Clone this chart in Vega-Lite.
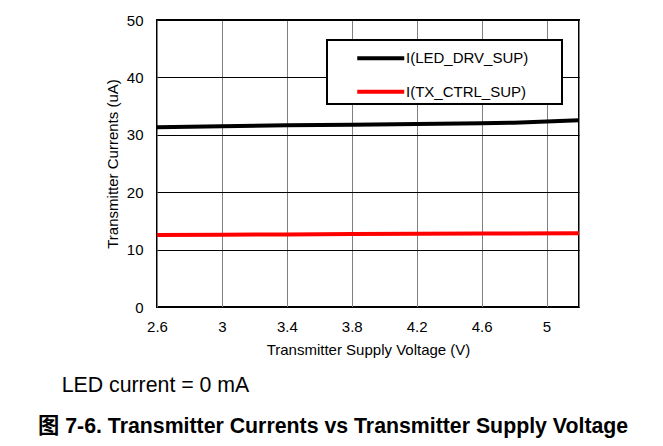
{
  "$schema": "https://vega.github.io/schema/vega-lite/v6.json",
  "autosize": "none",
  "width": 422,
  "height": 287,
  "padding": {"left": 157, "top": 20, "right": 84, "bottom": 139},
  "background": "white",
  "title": {
    "text": "\u200b\u00a0\u00a0\u00a0\u00a0LED current = 0 mA",
    "subtitle": "图 7-6. Transmitter Currents vs Transmitter Supply Voltage",
    "orient": "bottom",
    "anchor": "start",
    "frame": "group",
    "dx": -119,
    "offset": 18,
    "font": "Liberation Sans, Noto Sans CJK SC",
    "fontSize": 21.3,
    "fontWeight": "normal",
    "color": "#000000",
    "subtitleFont": "Liberation Sans, Noto Sans CJK SC",
    "subtitleFontSize": 21.3,
    "subtitleFontWeight": "bold",
    "subtitleColor": "#000000",
    "subtitlePadding": 20
  },
  "data": {
    "values": [
      {"v": 2.6, "i": 31.3, "s": "I(LED_DRV_SUP)"},
      {"v": 3.0, "i": 31.5, "s": "I(LED_DRV_SUP)"},
      {"v": 3.4, "i": 31.65, "s": "I(LED_DRV_SUP)"},
      {"v": 3.8, "i": 31.75, "s": "I(LED_DRV_SUP)"},
      {"v": 4.2, "i": 31.9, "s": "I(LED_DRV_SUP)"},
      {"v": 4.6, "i": 32.0, "s": "I(LED_DRV_SUP)"},
      {"v": 4.8, "i": 32.1, "s": "I(LED_DRV_SUP)"},
      {"v": 5.0, "i": 32.3, "s": "I(LED_DRV_SUP)"},
      {"v": 5.2, "i": 32.55, "s": "I(LED_DRV_SUP)"},
      {"v": 2.6, "i": 12.55, "s": "I(TX_CTRL_SUP)"},
      {"v": 3.0, "i": 12.6, "s": "I(TX_CTRL_SUP)"},
      {"v": 3.4, "i": 12.65, "s": "I(TX_CTRL_SUP)"},
      {"v": 3.8, "i": 12.7, "s": "I(TX_CTRL_SUP)"},
      {"v": 4.2, "i": 12.75, "s": "I(TX_CTRL_SUP)"},
      {"v": 4.6, "i": 12.8, "s": "I(TX_CTRL_SUP)"},
      {"v": 5.2, "i": 12.85, "s": "I(TX_CTRL_SUP)"}
    ]
  },
  "mark": {"type": "line", "strokeWidth": 4, "clip": false},
  "encoding": {
    "x": {
      "field": "v",
      "type": "quantitative",
      "scale": {"domain": [2.6, 5.2], "nice": false, "zero": false},
      "axis": {
        "title": "Transmitter Supply Voltage (V)",
        "values": [2.6, 3.0, 3.4, 3.8, 4.2, 4.6, 5.0, 5.2],
        "labelExpr": "datum.value > 5.1 ? '' : format(datum.value, '~g')",
        "gridColor": "#808080",
        "gridWidth": 1,
        "gridOpacity": 1,
        "labelPadding": 12,
        "titlePadding": 8
      }
    },
    "y": {
      "field": "i",
      "type": "quantitative",
      "scale": {"domain": [0, 50], "nice": false},
      "axis": {
        "title": "Transmitter Currents (uA)",
        "values": [0, 10, 20, 30, 40, 50],
        "gridColor": "#000000",
        "gridWidth": 1,
        "gridOpacity": 1,
        "labelPadding": 14,
        "titlePadding": 6
      }
    },
    "color": {
      "field": "s",
      "type": "nominal",
      "scale": {"domain": ["I(LED_DRV_SUP)", "I(TX_CTRL_SUP)"], "range": ["#000000", "#ff0000"]},
      "legend": {
        "title": null,
        "orient": "none",
        "legendX": 170,
        "legendY": 20,
        "symbolType": "M-2,0H2",
        "symbolSize": 552,
        "symbolStrokeWidth": 4,
        "labelExpr": "datum.label + '\u00a0\u00a0\u00a0\u00a0\u00a0\u00a0\u00a0\u200b'",
        "labelLimit": 300,
        "padding": 4.25,
        "symbolOffset": 35.5,
        "labelOffset": 11.25,
        "rowPadding": 11.5,
        "strokeColor": "#000000",
        "fillColor": "#ffffff",
        "labelFont": "Liberation Sans",
        "labelFontSize": 15,
        "labelColor": "#000000"
      }
    }
  },
  "config": {
    "view": {"stroke": "#000000", "strokeWidth": 2},
    "axis": {
      "domain": false,
      "ticks": false,
      "tickSize": 0,
      "labelFlush": false,
      "labelFont": "Liberation Sans",
      "labelFontSize": 15,
      "labelColor": "#000000",
      "titleFont": "Liberation Sans",
      "titleFontSize": 15,
      "titleFontWeight": "normal",
      "titleColor": "#000000",
      "labelOverlap": false
    },
    "legend": {"strokeWidth": 2}
  }
}
